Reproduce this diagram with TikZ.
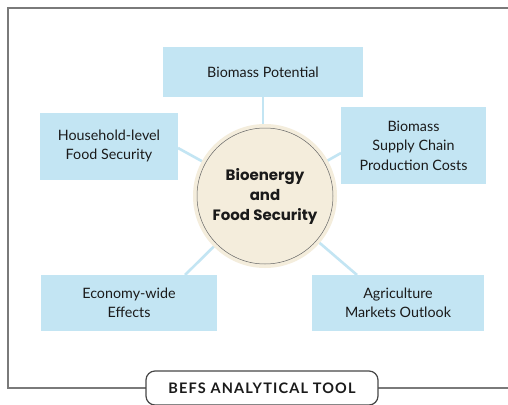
\documentclass[tikz,border=0pt]{standalone}
\usepackage{fontspec}
\setmainfont{Lato}
\newfontfamily\circfont{Poppins}
\usetikzlibrary{backgrounds}
\definecolor{boxblue}{HTML}{C3E5F3}
\definecolor{beige}{HTML}{F4EDDC}
\definecolor{txt}{HTML}{1A1A1A}
\definecolor{framegray}{HTML}{7A7A7A}
\tikzset{
  infobox/.style={fill=boxblue, draw=none, align=center, text=txt, font=\fontsize{14.3}{19.5}\selectfont, inner sep=0pt},
  conn/.style={draw=boxblue, line width=2.6pt},
}
\begin{document}
\begin{tikzpicture}[x=1pt,y=-1pt]
\useasboundingbox (0,0) rectangle (508,404);
% frame
\draw[framegray, line width=1.6pt] (508,8) -- (8,8) -- (8,388) -- (508,388);
% boxes
\node[infobox, minimum width=200pt, minimum height=50pt] (bp) at (263,72) {Biomass Potential};
\node[infobox, minimum width=138pt, minimum height=67pt] (hh) at (109,146) {Household-level\\Food Security};
\node[infobox, minimum width=145pt, minimum height=77pt] (sc) at (413.5,145.5) {Biomass\\Supply Chain\\Production Costs};
\node[infobox, minimum width=176pt, minimum height=56pt] (ec) at (129,303) {Economy-wide\\Effects};
\node[infobox, minimum width=172pt, minimum height=56pt] (ag) at (398,303) {Agriculture\\Markets Outlook};
% circle
\node[circle, fill=beige, minimum size=144pt, inner sep=0pt] (c) at (265,196) {};
\draw[gray!80!black, line width=0.5pt] (c.center) circle (68pt);
\node[align=center, text=txt, font=\circfont\bfseries\fontsize{15}{20}\selectfont] (ct) at (265,196) {Bioenergy\\and\\Food Security};
% connectors
\coordinate (scj) at (341,153);
\coordinate (ecj) at (185,275);
\coordinate (agj) at (357,275);
\coordinate (hhj) at (178,148);
\begin{pgfonlayer}{background}
\fill[white] (0,0) rectangle (508,404);
\draw[conn] (bp.south) -- (bp.south |- c.center);
\draw[conn] (c.center) -- (hhj);
\draw[conn] (c.center) -- (scj);
\draw[conn] (c.center) -- (ecj);
\draw[conn] (c.center) -- (agj);
\end{pgfonlayer}
% label
\node[draw=txt!80, line width=1.2pt, fill=white, rounded corners=9pt, minimum width=232pt, minimum height=34pt, inner sep=0pt, text=txt, font=\bfseries\fontsize{14.5}{16}\selectfont] (lab) at (262,388) {\addfontfeatures{LetterSpace=8}BEFS ANALYTICAL TOOL};
\end{tikzpicture}
\end{document}
